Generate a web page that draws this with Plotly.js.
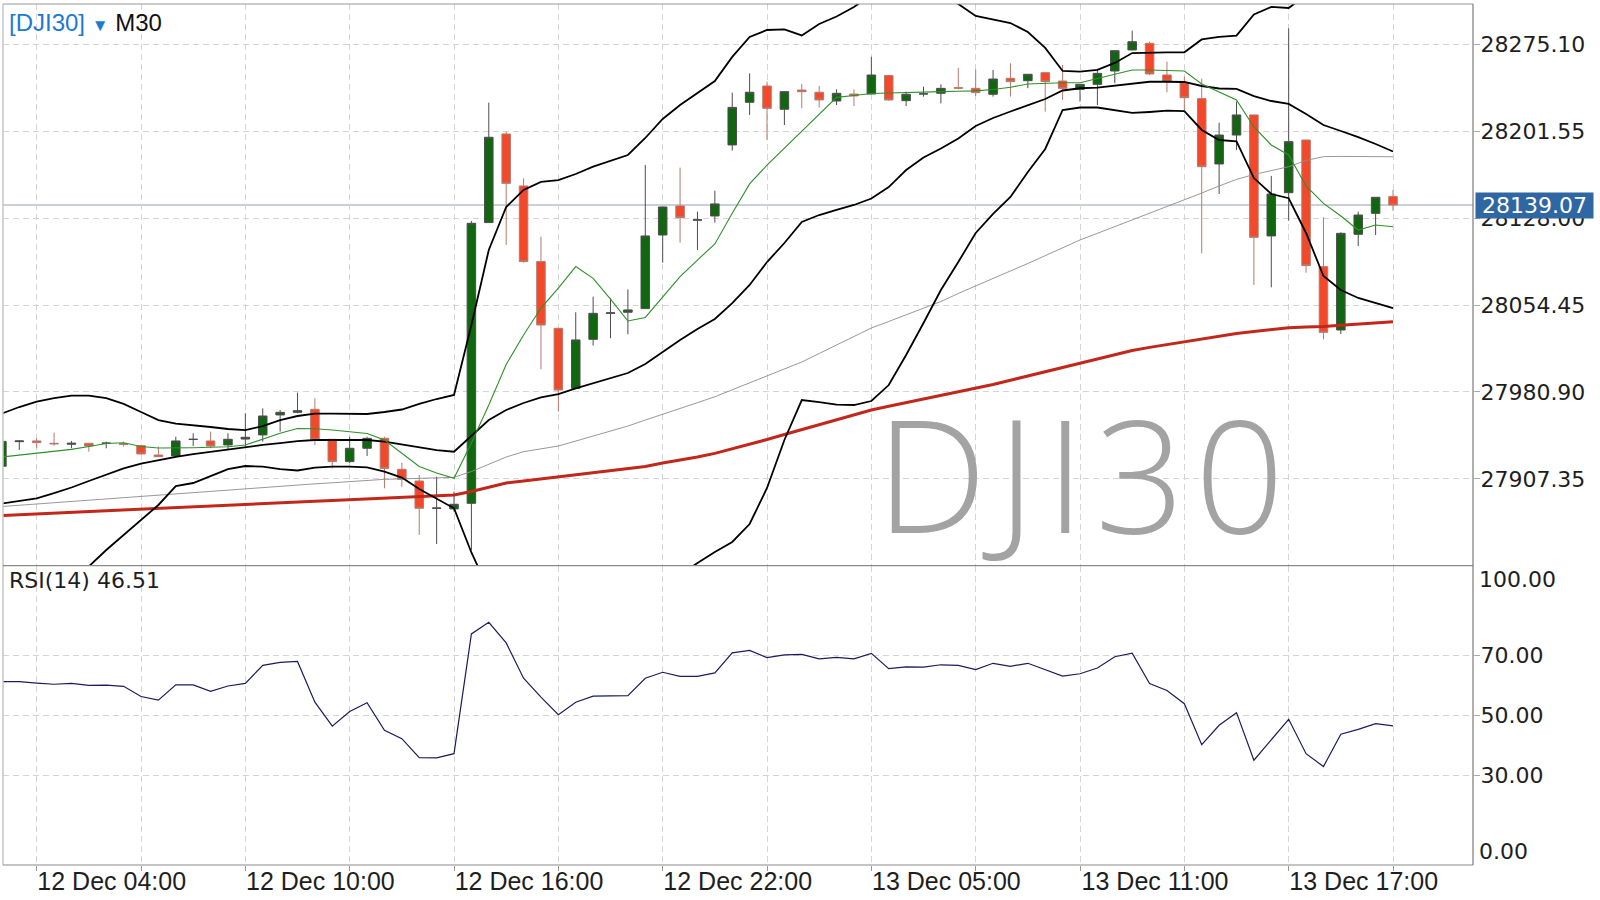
<!DOCTYPE html>
<html>
<head>
<meta charset="utf-8">
<script src="https://cdn.plot.ly/plotly-3.0.1.min.js"></script>
<style>
html,body{margin:0;padding:0;background:#fff;}
#chart{width:1600px;height:900px;}
</style>
</head>
<body>
<div id="chart"></div>
<script>
// ---- data (DJI30, M30) ----
const symbol = 'DJI30';
const timeframe = 'M30';

const open = [
27918.0,27938.8,27939.4,27937.4,27936.6,27937.4,27937.2,27937.0,27935.4,27927.5,
27926.7,27940.6,27939.4,27936.0,27941.0,27944.5,27961.4,27963.6,27966.2,27940.8,
27921.9,27933.2,27941.6,27915.4,27905.5,27882.4,27881.9,27886.6,28124.2,28199.2,
28155.2,28091.2,28034.7,27983.9,28025.4,28047.4,28048.3,28051.4,28113.7,28138.3,
28126.2,28129.8,28189.9,28226.0,28239.8,28220.1,28236.4,28234.5,28227.1,28233.0,
28233.0,28248.6,28227.4,28233.0,28233.6,28238.4,28237.8,28232.8,28246.3,28244.3,
28251.1,28244.0,28237.0,28241.2,28252.5,28270.3,28275.9,28249.1,28242.6,28229.1,
28173.8,28198.3,28215.3,28112.9,28149.5,28194.1,28086.9,28033.3,28114.3,28132.0,
28146.2];
const high = [
27940.0,27940.2,27941.6,27946.4,27939.4,27937.6,27938.8,27938.8,27935.8,27934.6,
27943.0,27945.9,27947.3,27945.9,27962.8,27967.0,27965.6,27980.3,27975.5,27941.0,
27943.0,27943.0,27943.0,27921.0,27910.6,27909.2,27896.5,28125.5,28225.7,28201.2,
28161.7,28112.3,28034.9,28048.3,28061.5,28060.1,28067.7,28173.0,28137.6,28170.7,
28133.5,28151.2,28234.2,28250.5,28243.5,28235.2,28241.5,28239.8,28237.0,28237.0,
28264.6,28248.8,28235.0,28239.2,28241.2,28255.3,28253.9,28253.4,28259.0,28249.9,
28251.3,28257.6,28241.4,28253.9,28269.9,28286.6,28277.3,28260.4,28247.7,28246.0,
28208.8,28226.6,28215.5,28163.7,28288.6,28194.3,28128.7,28116.0,28133.5,28145.8,
28151.8];
const low = [
27917.0,27931.8,27933.2,27935.4,27933.2,27930.3,27933.2,27934.6,27928.0,27926.0,
27926.5,27935.1,27933.2,27931.8,27934.6,27938.8,27947.3,27962.8,27936.0,27916.2,
27920.5,27926.7,27899.3,27900.7,27859.8,27852.2,27879.6,27847.0,28124.0,28105.3,
28090.3,28000.0,27964.2,27983.5,28020.1,28026.3,28029.7,28051.0,28090.3,28107.2,
28101.0,28124.2,28185.1,28215.3,28194.1,28206.8,28220.9,28221.5,28223.7,28222.9,
28232.8,28227.4,28222.9,28230.8,28225.1,28237.0,28231.4,28230.8,28230.8,28238.0,
28218.1,28228.0,28226.6,28223.7,28242.1,28270.0,28249.1,28234.5,28219.5,28098.2,
28148.4,28185.7,28071.4,28069.4,28125.8,28081.8,28025.4,28029.9,28104.4,28113.7,
28134.3];
const close = [
27939.0,27939.4,27938.0,27937.0,27937.4,27935.1,27937.6,27936.5,27928.4,27926.1,
27939.4,27940.8,27935.1,27940.8,27942.5,27960.5,27963.6,27965.0,27940.8,27921.9,
27933.2,27941.6,27916.2,27906.9,27882.4,27882.6,27885.8,28123.6,28196.4,28157.4,
28091.2,28037.5,27982.5,28024.9,28047.4,28047.8,28050.3,28112.9,28137.4,28128.4,
28126.6,28140.0,28221.7,28234.5,28220.9,28235.0,28235.0,28228.0,28233.6,28231.4,
28249.1,28228.0,28232.8,28233.2,28237.8,28238.0,28234.2,28245.7,28243.5,28249.7,
28243.5,28237.8,28241.2,28250.5,28269.7,28277.3,28250.0,28244.0,28229.9,28171.5,
28198.3,28215.3,28111.7,28148.4,28192.7,28087.8,28031.3,28115.1,28130.6,28145.6,
28139.07];

// Bollinger bands (upper / middle / lower)
const bbUpper = [
27962.6,27968.1,27972.6,27975.7,27977.8,27977.8,27975.7,27970.7,27963.9,27957.1,
27954.1,27952.9,27951.2,27949.5,27948.6,27952.0,27957.1,27960.5,27962.6,27962.6,
27962.2,27962.2,27963.9,27966.0,27970.7,27974.9,27978.3,28037.5,28101.0,28137.4,
28151.8,28158.6,28160.2,28165.3,28171.5,28176.3,28181.4,28195.8,28211.9,28223.7,
28233.9,28244.0,28264.4,28281.3,28287.2,28287.8,28282.6,28292.3,28298.6,28306.7,
28316.8,28322.8,28325.3,28324.4,28316.8,28309.2,28299.1,28296.1,28293.1,28285.5,
28272.0,28252.5,28251.9,28253.4,28259.3,28267.7,28268.3,28268.3,28268.3,28279.2,
28281.3,28282.4,28300.3,28306.7,28305.8,28316.8,28334.6,28336.3,28332.8,28325.3,
28316.9];
const bbMiddle = [
27886.4,27888.5,27890.8,27895.3,27900.0,27905.5,27911.0,27916.2,27920.3,27923.3,
27926.0,27928.3,27930.3,27932.6,27934.5,27936.0,27937.6,27939.3,27940.2,27940.2,
27940.2,27940.2,27938.9,27936.4,27933.8,27931.7,27930.3,27943.6,27957.1,27965.6,
27971.5,27976.2,27979.1,27983.8,27988.0,27992.2,27996.9,28004.5,28014.7,28024.8,
28034.1,28042.6,28056.1,28071.4,28090.8,28106.9,28124.7,28130.6,28134.9,28139.1,
28144.6,28154.3,28168.7,28179.3,28186.9,28195.4,28206.0,28212.7,28218.2,28223.7,
28228.8,28236.0,28237.9,28238.5,28240.2,28242.3,28243.4,28243.4,28243.2,28239.8,
28237.7,28237.3,28231.3,28227.1,28224.6,28216.1,28206.8,28201.7,28196.6,28190.7,
28184.4];
const bbLower = [
27810.2,27808.9,27809.0,27814.9,27822.2,27833.2,27847.1,27859.8,27872.0,27885.2,
27901.2,27903.8,27909.7,27915.6,27918.2,27917.7,27915.6,27914.4,27916.9,27917.7,
27917.7,27917.1,27913.5,27908.4,27898.7,27890.2,27882.4,27845.0,27813.2,27793.8,
27791.2,27793.8,27798.0,27802.3,27804.5,27808.1,27812.4,27813.2,27817.5,27825.9,
27836.1,27845.4,27853.9,27869.1,27899.6,27940.2,27974.0,27972.3,27970.2,27969.8,
27973.2,27986.7,28012.1,28039.2,28067.1,28090.8,28115.4,28131.5,28145.9,28167.0,
28186.5,28219.5,28221.6,28221.6,28219.5,28217.0,28217.8,28218.9,28218.6,28202.6,
28194.1,28193.0,28161.9,28148.4,28144.8,28115.4,28079.0,28067.1,28060.4,28056.1,
28051.9];

// fast moving average (thin green)
const maFast = [
27925.8,27927.5,27929.4,27930.9,27932.3,27934.7,27937.2,27937.9,27934.7,27933.4,
27933.2,27933.6,27934.0,27934.5,27936.0,27941.0,27945.9,27949.9,27949.7,27948.6,
27947.2,27945.7,27940.2,27929.2,27917.8,27912.3,27907.8,27937.6,27969.8,28004.1,
28029.1,28051.9,28068.7,28087.0,28077.0,28059.5,28040.9,28043.9,28060.8,28078.4,
28092.5,28106.1,28132.1,28156.9,28172.9,28187.3,28201.3,28216.1,28230.2,28231.8,
28233.5,28233.9,28234.1,28234.6,28235.0,28235.4,28235.7,28236.8,28238.7,28241.5,
28242.1,28242.6,28242.6,28246.2,28249.5,28253.4,28253.4,28252.9,28252.5,28241.5,
28234.7,28228.0,28205.1,28189.9,28181.4,28155.2,28140.5,28129.8,28117.9,28122.2,
28120.7];

// medium moving average (thin grey)
const maMid = [
27883.9,27885.0,27886.1,27887.2,27888.3,27889.4,27890.5,27891.6,27892.7,27893.8,
27894.9,27896.0,27897.1,27898.2,27899.3,27900.2,27901.2,27902.2,27903.1,27904.0,
27905.0,27906.0,27906.9,27907.3,27907.8,27908.2,27908.6,27913.5,27919.4,27925.8,
27930.3,27932.7,27935.1,27939.3,27943.6,27947.8,27952.0,27957.1,27962.2,27966.8,
27971.8,27976.8,27982.8,27988.6,27994.5,28000.3,28006.2,28013.4,28020.6,28027.9,
28035.0,28040.5,28046.0,28051.6,28057.4,28064.2,28070.5,28076.5,28083.0,28089.6,
28096.2,28102.7,28109.5,28115.1,28120.7,28126.4,28132.1,28137.6,28143.3,28149.2,
28155.2,28160.7,28164.9,28168.3,28171.5,28176.8,28180.0,28180.2,28180.2,28180.0,
28179.9];

// slow moving average (thick red)
const maSlow = [
27876.3,27877.0,27877.6,27878.3,27879.0,27879.7,27880.3,27881.0,27881.7,27882.3,
27883.0,27883.7,27884.3,27885.0,27885.7,27886.4,27887.0,27887.7,27888.4,27889.0,
27889.7,27890.4,27891.0,27891.7,27892.4,27893.0,27893.7,27896.6,27900.4,27903.8,
27905.5,27907.2,27909.1,27911.0,27912.7,27914.2,27915.6,27917.7,27920.7,27923.2,
27925.8,27928.9,27932.6,27936.4,27940.6,27944.9,27949.1,27953.3,27957.5,27961.8,
27965.6,27968.7,27971.8,27974.9,27977.8,27980.8,27983.8,27987.2,27990.8,27994.4,
27998.0,28001.5,28005.2,28008.7,28012.4,28015.9,28018.6,28021.0,28023.1,28025.7,
28028.2,28030.3,28032.0,28033.7,28035.2,28035.8,28036.2,28037.3,28038.4,28039.4,
28040.3];

// RSI(14)
const rsi = [
61.3,61.3,60.8,60.4,60.7,60.0,60.1,59.7,56.3,55.1,
60.2,60.2,58.0,59.8,60.7,66.7,67.7,68.0,54.4,46.4,
51.3,54.2,45.0,42.2,35.9,35.8,37.2,77.2,81.1,74.2,
62.4,56.1,50.2,54.4,56.4,56.6,56.6,62.4,64.4,63.0,
63.0,64.2,70.9,71.7,69.3,70.2,70.4,68.9,69.4,68.9,
70.7,65.6,66.2,66.1,66.9,66.7,65.3,67.4,66.4,67.4,
65.2,63.1,63.9,65.8,69.6,70.8,60.6,58.3,53.9,40.2,
46.7,50.9,35.0,41.7,48.7,37.2,32.9,43.7,45.3,47.2,
46.51];

// axis ticks
const timeTickBars = [2, 8, 14, 20, 26, 32, 38, 44, 50, 56, 62, 68, 74, 80];
const timeTickLabels = ['12 Dec 04:00', '', '12 Dec 10:00', '', '12 Dec 16:00', '', '12 Dec 22:00', '',
                        '13 Dec 05:00', '', '13 Dec 11:00', '', '13 Dec 17:00', ''];
const priceTicks = [27907.35, 27980.90, 28054.45, 28128.00, 28201.55, 28275.10];
const rsiTicks = [30, 50, 70];
const rsiEdgeTicks = [0, 100];

// ---- chart ----
const bars = close.map((_, i) => i);
const last = close[close.length - 1];
const splitY = 0.3476;
const gridStyle = {showgrid: true, gridcolor: '#d4d4d4', griddash: '6px,4px', gridwidth: 1};
const yFont = {family: 'DejaVu Sans', size: 22, color: '#1e1e1e'};

const lineTrace = (y, color, width) => ({
  type: 'scatter', mode: 'lines', x: bars, y: y, xaxis: 'x2', yaxis: 'y2',
  line: {color: color, width: width}, hoverinfo: 'skip', showlegend: false
});

const traces = [
  {
    type: 'candlestick', x: bars, open: open, high: high, low: low, close: close,
    xaxis: 'x2', yaxis: 'y2', whiskerwidth: 0,
    increasing: {line: {color: '#4d4d4d', width: 1}, fillcolor: '#11670f'},
    decreasing: {line: {color: '#b47a6e', width: 1}, fillcolor: '#f4482a'},
    hoverinfo: 'skip', showlegend: false
  },
  lineTrace(maMid, '#8c8c8c', 0.9),
  lineTrace(maSlow, '#c1281b', 3),
  lineTrace(bbUpper, '#000000', 1.8),
  lineTrace(bbMiddle, '#000000', 1.8),
  lineTrace(bbLower, '#000000', 1.8),
  lineTrace(maFast, '#2f8f2a', 1.1),
  {
    type: 'scatter', mode: 'lines', x: bars, y: rsi, xaxis: 'x', yaxis: 'y',
    line: {color: '#1c1c5c', width: 1.2}, hoverinfo: 'skip', showlegend: false
  }
];

const xr = [0.063, 84.6];
const layout = {
  width: 1600, height: 900,
  margin: {l: 3, r: 127, t: 4, b: 35, pad: 0},
  paper_bgcolor: '#ffffff', plot_bgcolor: '#ffffff',
  hovermode: false, showlegend: false,
  xaxis: Object.assign({
    domain: [0, 1], anchor: 'y', range: xr, autorange: false,
    tickmode: 'array', tickvals: timeTickBars, ticktext: timeTickLabels,
    ticks: 'outside', ticklen: 5, tickcolor: '#999',
    tickfont: {family: 'Liberation Sans', size: 25, color: '#1e1e1e'},
    ticklabelshift: 75, ticklabelstandoff: -11, showline: false, zeroline: false, fixedrange: true
  }, gridStyle),
  xaxis2: Object.assign({
    domain: [0, 1], anchor: 'y2', matches: 'x', range: xr, autorange: false,
    tickmode: 'array', tickvals: timeTickBars, showticklabels: false, ticks: '',
    showline: false, zeroline: false, fixedrange: true, rangeslider: {visible: false}
  }, gridStyle),
  yaxis: Object.assign({
    domain: [0, splitY], anchor: 'x', side: 'right', range: [0, 100], autorange: false,
    tickmode: 'array', tickvals: rsiTicks, ticktext: rsiTicks.map(v => v.toFixed(2)),
    ticks: 'outside', ticklen: 6, tickcolor: '#aaa', tickfont: yFont, ticklabelstandoff: -4,
    showline: false, zeroline: false, fixedrange: true
  }, gridStyle),
  yaxis2: Object.assign({
    domain: [splitY, 1], anchor: 'x2', side: 'right', range: [27833.8, 28309.2], autorange: false,
    tickmode: 'array', tickvals: priceTicks, ticktext: priceTicks.map(v => v.toFixed(2)),
    ticks: 'outside', ticklen: 6, tickcolor: '#aaa', tickfont: yFont, ticklabelstandoff: -4,
    showline: false, zeroline: false, fixedrange: true
  }, gridStyle),
  shapes: [
    {type: 'line', xref: 'paper', yref: 'y2', x0: 0, x1: 1, y0: last, y1: last,
     line: {color: '#b8c1ca', width: 1.5}, layer: 'below'},
    {type: 'line', xref: 'paper', yref: 'paper', x0: 0, x1: 0, y0: 0, y1: 1, line: {color: '#c6c6c6', width: 1.5}},
    {type: 'line', xref: 'paper', yref: 'paper', x0: 0, x1: 1, y0: 1, y1: 1, line: {color: '#9a9a9a', width: 1.2}},
    {type: 'line', xref: 'paper', yref: 'paper', x0: 0, x1: 1, y0: splitY, y1: splitY, line: {color: '#8a8a8a', width: 1.2}},
    {type: 'line', xref: 'paper', yref: 'paper', x0: 0, x1: 1, y0: 0, y1: 0, line: {color: '#8a8a8a', width: 1.2}},
    {type: 'line', xref: 'paper', yref: 'paper', x0: 1, x1: 1, y0: 0, y1: 1, line: {color: '#7a7a7a', width: 1.2}}
  ],
  annotations: [
    {xref: 'paper', yref: 'paper', x: 0.5925, y: 0.4566, xanchor: 'left', yanchor: 'middle',
     text: '<span style="letter-spacing:10px">' + symbol + '</span>', showarrow: false,
     font: {family: 'Open Sans', size: 157, color: '#a3a3a3', weight: 300}},
    {xref: 'paper', yref: 'paper', x: 0, y: 1, xanchor: 'left', yanchor: 'top', xshift: 4, yshift: -3,
     showarrow: false,
     text: '<span style="color:#1b7bd3">[' + symbol + ']</span> <span style="color:#1b7bd3;font-size:17px">▼</span> ' + timeframe,
     font: {family: 'Liberation Sans', size: 24, color: '#111'}},
    {xref: 'paper', yref: 'paper', x: 0, y: splitY, xanchor: 'left', yanchor: 'top', xshift: 4, yshift: 0,
     showarrow: false, text: 'RSI(14) ' + rsi[rsi.length - 1].toFixed(2),
     font: {family: 'DejaVu Sans', size: 22, color: '#1e1e1e'}},
    {xref: 'paper', yref: 'y', x: 1, y: rsiEdgeTicks[1], xanchor: 'left', yanchor: 'middle', xshift: 4, yshift: -14,
     showarrow: false, text: rsiEdgeTicks[1].toFixed(2), font: yFont},
    {xref: 'paper', yref: 'y', x: 1, y: rsiEdgeTicks[0], xanchor: 'left', yanchor: 'middle', xshift: 4, yshift: 13,
     showarrow: false, text: rsiEdgeTicks[0].toFixed(2), font: yFont},
    {xref: 'paper', yref: 'y2', x: 1, y: last, xanchor: 'left', yanchor: 'middle', xshift: 2,
     showarrow: false, text: last.toFixed(2), bgcolor: '#2f67a2', borderpad: 2, width: 113, height: 21,
     font: {family: 'DejaVu Sans', size: 22, color: '#ffffff'}}
  ]
};

Plotly.newPlot('chart', traces, layout, {staticPlot: true, displayModeBar: false});
</script>
</body>
</html>
